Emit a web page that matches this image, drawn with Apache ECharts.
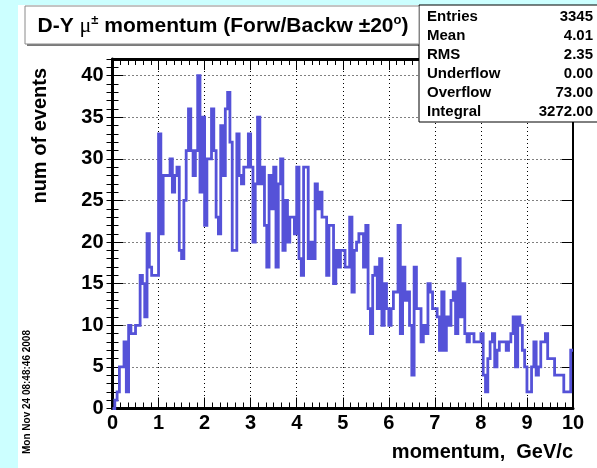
<!DOCTYPE html>
<html>
<head>
<meta charset="utf-8">
<script src="https://cdn.jsdelivr.net/npm/echarts@6/dist/echarts.min.js"></script>
<style>
  html, body { margin: 0; padding: 0; background: #ffffff; }
  #chart { width: 597px; height: 468px; }
</style>
</head>
<body>
<div id="chart"></div>
<script>
// Histogram range: 200 bins of 0.05 GeV/c between 0 and 10 GeV/c
const xMin = 0;
const xMax = 10;
const binWidth = 0.05;

// Bin contents (events per bin), grouped by 2 GeV/c ranges
const countsRange0to2 = [
  0, 1, 2, 5, 5, 8, 2, 10, 9, 9, 10, 10, 16, 15, 11, 21, 17, 16, 16, 16,
  33, 21, 28, 28, 28, 30, 26, 28, 29, 19, 18, 25, 31, 36, 31, 28, 31, 40, 26, 35
];
const countsRange2to4 = [
  22, 30, 30, 36, 31, 23, 21, 34, 28, 36, 38, 32, 19, 19, 33, 28, 27, 29, 29, 33,
  29, 20, 27, 35, 27, 29, 22, 17, 28, 24, 29, 17, 27, 30, 19, 25, 20, 23, 23, 21
];
const countsRange4to6 = [
  29, 18, 16, 29, 29, 18, 20, 18, 27, 24, 26, 23, 23, 16, 22, 22, 15, 19, 17, 19,
  19, 17, 17, 23, 14, 19, 20, 21, 21, 17, 22, 12, 9, 16, 17, 12, 18, 10, 15, 12
];
const countsRange6to8 = [
  10, 12, 14, 14, 22, 9, 17, 13, 14, 10, 4, 17, 12, 12, 8, 10, 9, 15, 14, 12,
  12, 11, 7, 14, 7, 11, 10, 13, 14, 9, 18, 11, 15, 9, 8, 9, 9, 8, 8, 8
];
const countsRange8to10 = [
  9, 4, 2, 6, 8, 9, 5, 7, 8, 8, 8, 7, 8, 9, 11, 5, 11, 10, 7, 5,
  2, 2, 5, 8, 4, 5, 8, 8, 9, 6, 6, 6, 4, 4, 4, 4, 2, 2, 2, 7
];

// Axis tick labels
const xTickLabels = ['0', '1', '2', '3', '4', '5', '6', '7', '8', '9', '10'];
const yTickLabels = ['0', '5', '10', '15', '20', '25', '30', '35', '40'];

// Statistics box rows
const statNames = ['Entries', 'Mean', 'RMS', 'Underflow', 'Overflow', 'Integral'];
const statValues = ['3345', '4.01', '2.35', '0.00', '73.00', '3272.00'];

const xTitle = 'momentum,  GeV/c';
const yTitle = 'num of events';
const dateStamp = 'Mon Nov 24 08:48:46 2008';

const counts = [].concat(countsRange0to2, countsRange2to4, countsRange4to6,
                         countsRange6to8, countsRange8to10);

// Step outline: each point is a bin's low edge, plus the closing upper edge
const outline = counts.map((c, k) => [xMin + k * binWidth, c]);
outline.push([xMax, counts[counts.length - 1]]);

const yMax = 42;
const FONT = '"Liberation Sans", Arial, Helvetica, sans-serif';
const lineColor = '#5552d8';

const chart = echarts.init(document.getElementById('chart'), null, { renderer: 'canvas' });

const axisBase = { type: 'value', silent: true };

const option = {
  animation: false,
  backgroundColor: '#ffffff',
  grid: { left: 112.5, right: 24, top: 59, bottom: 59.5, containLabel: false, outerBoundsMode: 'none' },
  xAxis: [
    Object.assign({}, axisBase, {
      position: 'bottom', min: xMin, max: xMax, interval: 1,
      axisLine: { show: true, onZero: false, lineStyle: { color: '#000', width: 3 } },
      axisTick: { show: true, inside: true, length: 11, lineStyle: { color: '#000', width: 1 } },
      minorTick: { show: true, splitNumber: 6, length: 6, lineStyle: { color: '#000', width: 1 } },
      axisLabel: {
        show: true, margin: 5, color: '#000', fontSize: 20, fontWeight: 'bold', fontFamily: FONT,
        formatter: v => xTickLabels[Math.round(v)] || ''
      },
      splitLine: { show: true, lineStyle: { color: '#000', width: 1, type: [1, 3] } }
    }),
    Object.assign({}, axisBase, {
      position: 'top', min: xMin, max: xMax, interval: 1,
      axisLine: { show: true, onZero: false, lineStyle: { color: '#000', width: 3 } },
      axisTick: { show: true, inside: true, length: 11, lineStyle: { color: '#000', width: 1 } },
      minorTick: { show: true, splitNumber: 6, length: 6, lineStyle: { color: '#000', width: 1 } },
      axisLabel: { show: false },
      splitLine: { show: false }
    })
  ],
  yAxis: [
    Object.assign({}, axisBase, {
      position: 'left', min: 0, max: yMax, interval: 5,
      axisLine: { show: true, onZero: false, lineStyle: { color: '#000', width: 3 } },
      axisTick: { show: true, inside: true, length: 11, lineStyle: { color: '#000', width: 1 } },
      axisLabel: {
        show: true, margin: 9, color: '#000', fontSize: 20, fontWeight: 'bold', fontFamily: FONT,
        showMaxLabel: false, padding: [4, 0, 0, 0],
        formatter: v => (v % 5 === 0 && yTickLabels[v / 5]) ? yTickLabels[v / 5] : ''
      },
      splitLine: { show: true, lineStyle: { color: '#000', width: 1, type: [1, 3] } }
    }),
    Object.assign({}, axisBase, {
      position: 'left', min: 0, max: yMax, interval: 1,
      axisLine: { show: false },
      axisTick: { show: true, inside: true, length: 6, lineStyle: { color: '#000', width: 1 } },
      axisLabel: { show: false },
      splitLine: { show: false }
    }),
    Object.assign({}, axisBase, {
      position: 'right', min: 0, max: yMax, interval: 5,
      axisLine: { show: true, onZero: false, lineStyle: { color: '#000', width: 2 } },
      axisTick: { show: true, inside: true, length: 11, lineStyle: { color: '#000', width: 1 } },
      axisLabel: { show: false },
      splitLine: { show: false }
    }),
    Object.assign({}, axisBase, {
      position: 'right', min: 0, max: yMax, interval: 1,
      axisLine: { show: false },
      axisTick: { show: true, inside: true, length: 6, lineStyle: { color: '#000', width: 1 } },
      axisLabel: { show: false },
      splitLine: { show: false }
    })
  ],
  series: [{
    type: 'line',
    xAxisIndex: 0,
    yAxisIndex: 0,
    step: 'end',
    data: outline,
    symbol: 'none',
    silent: true,
    clip: true,
    lineStyle: { color: lineColor, width: 2.8, join: 'miter' },
    z: 3
  }],
  graphic: [
    // canvas edge strips
    { type: 'rect', z: -10, silent: true, shape: { x: 0, y: 0, width: 597, height: 5 }, style: { fill: '#ccffff' } },
    { type: 'rect', z: -10, silent: true, shape: { x: 0, y: 0, width: 18, height: 468 }, style: { fill: '#ccffff' } },
    // title pave with shadow
    { type: 'rect', z: 20, silent: true, shape: { x: 27, y: 8, width: 394, height: 38 }, style: { fill: '#7a7a7a' } },
    { type: 'rect', z: 21, silent: true, shape: { x: 25, y: 6, width: 394, height: 38 }, style: { fill: '#fff', stroke: '#8a8a8a', lineWidth: 1 } },
    {
      type: 'text', z: 22, silent: true, x: 223, y: 26,
      style: {
        text: '{b|D-Y }{g|μ}{s|±}{b| momentum (Forw/Backw ±20}{s|o}{b|)}',
        align: 'center', verticalAlign: 'middle', textAlign: 'center', textVerticalAlign: 'middle',
        fill: '#000',
        rich: {
          b: { fontSize: 21, fontWeight: 'bold', fontFamily: FONT, lineHeight: 25, fill: '#000' },
          g: { fontSize: 22, fontFamily: '"Liberation Serif", serif', lineHeight: 25, fill: '#000' },
          s: { fontSize: 13, fontWeight: 'bold', fontFamily: FONT, lineHeight: 14, verticalAlign: 'top', fill: '#000' }
        }
      }
    },
    // statistics box
    { type: 'rect', z: 20, silent: true, shape: { x: 419, y: 5, width: 182, height: 117 }, style: { fill: '#fff', stroke: '#000', lineWidth: 1 } }
  ].concat(
    statNames.map((n, i) => ({
      type: 'text', z: 22, silent: true, x: 427, y: 17 + i * 19,
      style: { text: n, font: 'bold 15px ' + FONT, fill: '#000', align: 'left', verticalAlign: 'middle', textAlign: 'left', textVerticalAlign: 'middle' }
    })),
    statValues.map((v, i) => ({
      type: 'text', z: 22, silent: true, x: 593, y: 17 + i * 19,
      style: { text: v, font: 'bold 15px ' + FONT, fill: '#000', align: 'right', verticalAlign: 'middle', textAlign: 'right', textVerticalAlign: 'middle' }
    })),
    [
      // axis titles
      {
        type: 'text', z: 22, silent: true, x: 573, y: 452,
        style: { text: xTitle, font: 'bold 20px ' + FONT, fill: '#000', align: 'right', verticalAlign: 'middle', textAlign: 'right', textVerticalAlign: 'middle' }
      },
      {
        type: 'text', z: 22, silent: true, x: 40, y: 68, rotation: Math.PI / 2,
        style: { text: yTitle, font: 'bold 20px ' + FONT, fill: '#000', align: 'right', verticalAlign: 'middle', textAlign: 'right', textVerticalAlign: 'middle' }
      },
      // date stamp
      {
        type: 'text', z: 22, silent: true, x: 27, y: 392, rotation: Math.PI / 2,
        style: { text: dateStamp, font: 'bold 10px ' + FONT, fill: '#000', align: 'center', verticalAlign: 'middle', textAlign: 'center', textVerticalAlign: 'middle' }
      }
    ]
  )
};

chart.setOption(option);
</script>
</body>
</html>
